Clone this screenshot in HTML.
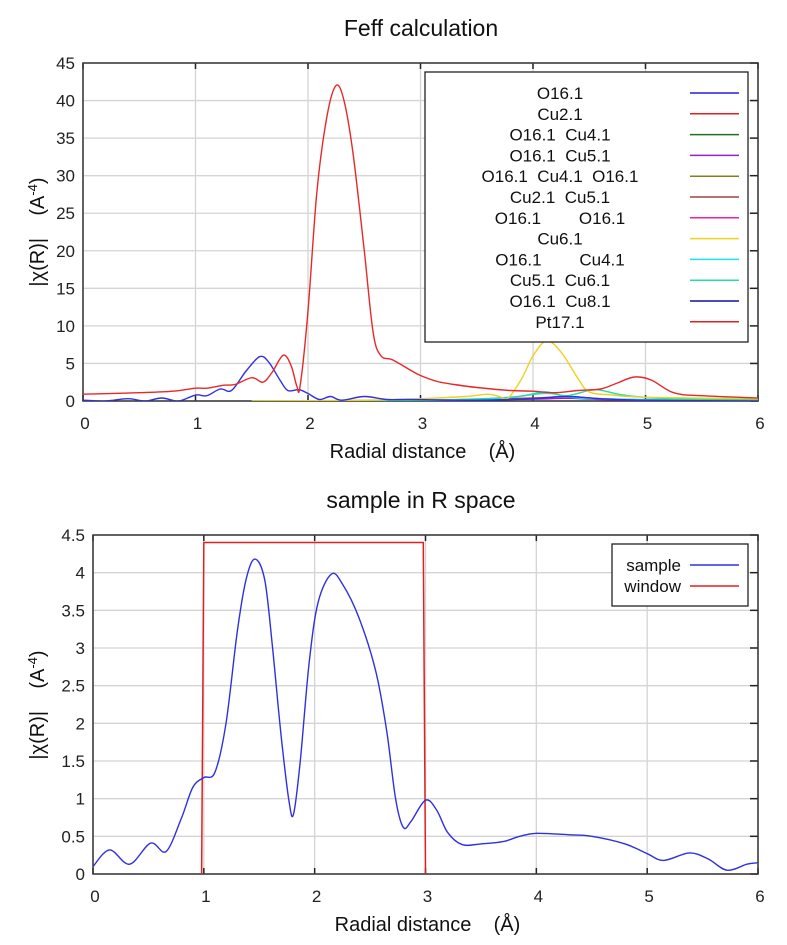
<!DOCTYPE html>
<html><head><meta charset="utf-8"><style>
html,body{margin:0;padding:0;background:#fff;}
svg{display:block;font-family:"Liberation Sans",Arial,sans-serif;}
svg text{white-space:pre;}
</style></head><body>
<svg id="svg" width="787" height="945" viewBox="0 0 787 945">
<text x="421" y="36" font-size="23" text-anchor="middle" fill="#111">Feff calculation</text>
<text x="421" y="508" font-size="23" text-anchor="middle" fill="#111">sample in R space</text>
<g id="top"></g>
<g id="bot"></g>
</svg>
<script>
// ---- Top chart data ----
const topXTicks = [0,1,2,3,4,5,6];
const topYTicks = [0,5,10,15,20,25,30,35,40,45];
const o16X = [0,0.2,0.4,0.55,0.7,0.85,1.0,1.1,1.22,1.32,1.45,1.57,1.65,1.75,1.82,1.92,2.0,2.1,2.2,2.3,2.5,2.7,2.9,3.5,4.0,4.3,4.6,5.0,6.0];
const o16Y = [0.1,0,0.3,0,0.4,0,0.8,0.7,1.6,1.4,4.0,5.9,5.2,2.8,1.4,1.5,1.0,0.2,0.6,0.1,0.6,0.2,0.2,0.1,0.3,0.6,0.3,0.1,0];
const cu2X = [0,0.5,0.8,1.0,1.1,1.25,1.35,1.5,1.6,1.68,1.78,1.85,1.9,1.93,2.0,2.08,2.17,2.25,2.32,2.4,2.5,2.58,2.65,2.75,2.9,3.0,3.15,3.3,3.5,3.8,4.0,4.2,4.4,4.6,4.75,4.9,5.05,5.25,5.5,6.0];
const cu2Y = [0.9,1.1,1.3,1.7,1.7,2.1,2.2,3.1,2.5,3.8,6.1,4.7,2.0,2.0,12,28,38,42,40,33,20,9,6,5.5,4.2,3.4,2.6,2.2,1.8,1.4,1.3,1.1,1.4,1.6,2.4,3.2,2.8,1.1,0.7,0.4];
const cu6X = [1.5,2.5,3.0,3.4,3.6,3.7,3.78,3.9,4.0,4.12,4.25,4.4,4.5,4.7,5.0,6.0];
const cu6Y = [0,0.1,0.3,0.6,0.9,0.6,0.4,3,6,8.0,6.5,3.0,1.2,0.8,0.5,0.3];
const cu56X = [1.5,3.0,3.8,4.1,4.3,4.55,4.8,5.2,6.0];
const cu56Y = [0,0.1,0.5,1.2,0.7,1.5,0.8,0.3,0.2];
const cyanX = [1.5,3.5,4.1,4.4,5.0,6.0];
const cyanY = [0,0.2,1.0,0.4,0.2,0.1];
const smallX = [1.5,3.0,4.0,4.3,4.8,6.0];
const smallY = [0,0.1,0.4,0.6,0.2,0.1];
const legendLabels = ["O16.1","Cu2.1","O16.1  Cu4.1","O16.1  Cu5.1","O16.1  Cu4.1  O16.1","Cu2.1  Cu5.1","O16.1        O16.1","Cu6.1","O16.1        Cu4.1","Cu5.1  Cu6.1","O16.1  Cu8.1","Pt17.1"];
const legendColors = ["#2020e0","#e02020","#207020","#9020d0","#808020","#a04040","#f020a0","#f0d020","#20e0e0","#20e0a0","#1010a0","#e02020"];
// ---- Bottom chart data ----
const botXTicks = [0,1,2,3,4,5,6];
const botYTicks = [0,0.5,1,1.5,2,2.5,3,3.5,4,4.5];
const sampleX = [0,0.15,0.33,0.52,0.66,0.8,0.9,1.0,1.1,1.2,1.3,1.38,1.46,1.55,1.62,1.7,1.77,1.81,1.87,1.95,2.03,2.15,2.25,2.4,2.55,2.65,2.73,2.8,2.87,3.0,3.1,3.2,3.33,3.5,3.7,3.85,4.0,4.3,4.5,4.8,5.0,5.15,5.38,5.55,5.72,5.9,6.0];
const sampleY = [0.1,0.32,0.13,0.41,0.3,0.75,1.15,1.28,1.35,2.0,3.2,3.9,4.18,3.9,3.0,1.8,0.95,0.8,1.5,2.8,3.6,3.98,3.85,3.4,2.7,1.9,1.0,0.62,0.7,0.98,0.85,0.55,0.39,0.4,0.43,0.5,0.54,0.52,0.5,0.4,0.27,0.18,0.28,0.2,0.05,0.13,0.15];
const windowX = [0.98,1.0,2.98,3.0];
const windowY = [0,4.4,4.4,0];

const NS="http://www.w3.org/2000/svg";
function mk(tag,attrs,parent){const e=document.createElementNS(NS,tag);for(const k in attrs)e.setAttribute(k,attrs[k]);parent.appendChild(e);return e;}
function smoothPath(xs,ys,sx,sy){
  const p=xs.map((x,i)=>[sx(x),sy(ys[i])]);
  let d="M"+p[0][0].toFixed(1)+","+p[0][1].toFixed(1);
  for(let i=0;i<p.length-1;i++){
    const p0=p[Math.max(0,i-1)],p1=p[i],p2=p[i+1],p3=p[Math.min(p.length-1,i+2)];
    const c1=[p1[0]+(p2[0]-p0[0])/6,p1[1]+(p2[1]-p0[1])/6];
    const c2=[p2[0]-(p3[0]-p1[0])/6,p2[1]-(p3[1]-p1[1])/6];
    d+=" C"+c1[0].toFixed(1)+","+c1[1].toFixed(1)+" "+c2[0].toFixed(1)+","+c2[1].toFixed(1)+" "+p2[0].toFixed(1)+","+p2[1].toFixed(1);
  }
  return d;
}
function axes(g,L,R,T,B,xt,yt,sx,sy,ylabY,xlabY){
  for(const v of xt){const x=sx(v);
    const gl=mk("line",{x1:x,x2:x,y1:T,y2:B,stroke:"#d4d4d4","stroke-width":1.3},g);
    
    const t=mk("text",{x:x+2,y:B+28,"font-size":17,"text-anchor":"middle",fill:"#222"},g);t.textContent=v;
    
    mk("line",{x1:x,x2:x,y1:B,y2:B-6,stroke:"#222","stroke-width":1.5},g);
    mk("line",{x1:x,x2:x,y1:T,y2:T+6,stroke:"#222","stroke-width":1.5},g);}
  for(const v of yt){const y=sy(v);
    const gl=mk("line",{x1:L,x2:R,y1:y,y2:y,stroke:"#d4d4d4","stroke-width":1.3},g);
    
    const t=mk("text",{x:L-8,y:y+6,"font-size":17,"text-anchor":"end",fill:"#222"},g);t.textContent=v;
    
    mk("line",{x1:R,x2:R-8,y1:y,y2:y,stroke:"#222","stroke-width":1.5},g);}
  const f=mk("rect",{x:L,y:T,width:R-L,height:B-T,fill:"none",stroke:"#333","stroke-width":1.5},g);
  
  const xl=mk("text",{x:(L+R)/2+2,y:xlabY,"font-size":20,"text-anchor":"middle",fill:"#111"},g);
  xl.textContent="Radial distance    (Å)";
  
  const yl=mk("text",{x:0,y:0,"font-size":20,"text-anchor":"middle",fill:"#111","transform":"translate(44,"+ylabY+") rotate(-90)"},g);
  yl.innerHTML='|χ(R)|    (A<tspan baseline-shift="super" font-size="13">-4</tspan>)';
  
}
// Top chart
(function(){
  const g=document.getElementById("top");
  const L=83,R=758,T=63,B=401;
  const sx=v=>L+(v-0)/6*(R-L), sy=v=>B-v/45*(B-T);
  axes(g,L,R,T,B,topXTicks,topYTicks,sx,sy,232,458);
  const clip=mk("clipPath",{id:"ct"},g);mk("rect",{x:L,y:T,width:R-L,height:B-T},clip);
  const series=[[smallX,smallY,"#a04040","series-cu2-cu5"],[smallX,smallY.map(v=>v*0.6),"#9020d0","series-o16-cu5"],[cyanX,cyanY,"#20e0e0","series-o16-cu4-b"],[cu56X,cu56Y,"#20e0a0","series-cu5-cu6"],[cu6X,cu6Y,"#f0d020","series-cu6"],[o16X,o16Y,"#3030e0","series-o16"],[cu2X,cu2Y,"#e82828","series-cu2"]];
  for(const s of series){
    const p=mk("path",{d:smoothPath(s[0],s[1],sx,sy),fill:"none",stroke:s[2],"stroke-width":1.4,"clip-path":"url(#ct)"},g);
    
  }
  const lg=mk("g",{},g);
  mk("rect",{x:425,y:72,width:323,height:270,fill:"#fff",stroke:"#222","stroke-width":1.3},lg);
  legendLabels.forEach((lab,i)=>{
    const y=93+i*20.8;
    const t=mk("text",{x:560,y:y+6,"font-size":17,"text-anchor":"middle",fill:"#111"},lg);t.textContent=lab;
    
    mk("line",{x1:690,x2:739,y1:y,y2:y,stroke:legendColors[i],"stroke-width":1.5},lg);
  });
})();
// Bottom chart
(function(){
  const g=document.getElementById("bot");
  const L=93,R=758,T=535,B=874;
  const sx=v=>L+v/6*(R-L), sy=v=>B-v/4.5*(B-T);
  axes(g,L,R,T,B,botXTicks,botYTicks,sx,sy,705,931);
  const w=mk("polyline",{points:windowX.map((x,i)=>sx(x)+","+sy(windowY[i])).join(" "),fill:"none",stroke:"#e02020","stroke-width":1.5},g);
  
  const s=mk("path",{d:smoothPath(sampleX,sampleY,sx,sy),fill:"none",stroke:"#3030e0","stroke-width":1.4},g);
  
  const lg=mk("g",{},g);
  mk("rect",{x:612,y:544,width:136,height:62,fill:"#fff",stroke:"#222","stroke-width":1.3},lg);
  [["sample","#3030e0",565],["window","#e02020",586]].forEach(e=>{
    const t=mk("text",{x:681,y:e[2]+6,"font-size":17,"text-anchor":"end",fill:"#111"},lg);t.textContent=e[0];
    
    mk("line",{x1:690,x2:739,y1:e[2],y2:e[2],stroke:e[1],"stroke-width":1.5},lg);
  });
})();
</script>
</body></html>
